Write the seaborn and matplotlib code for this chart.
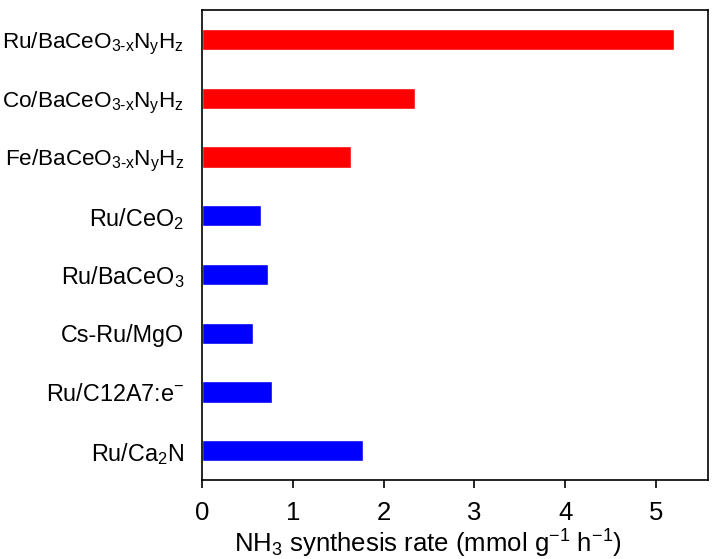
import pandas as pd
import seaborn as sns
from matplotlib import pyplot as plt

# catalysts, top to bottom
catalysts = [
    r"Ru/BaCeO$_{3\text{-}x}$N$_y$H$_z$",
    r"Co/BaCeO$_{3\text{-}x}$N$_y$H$_z$",
    r"Fe/BaCeO$_{3\text{-}x}$N$_y$H$_z$",
    r"Ru/CeO$_2$",
    r"Ru/BaCeO$_3$",
    "Cs-Ru/MgO",
    r"Ru/C12A7:e$^{-}$",
    r"Ru/Ca$_2$N",
]
rates = [5.20, 2.35, 1.64, 0.645, 0.726, 0.56, 0.77, 1.77]
groups = ["this work"] * 3 + ["reference"] * 5
x_ticks = [0, 1, 2, 3, 4, 5]

df = pd.DataFrame({"catalyst": catalysts, "rate": rates, "group": groups})

sns.set_style("white")
plt.rcParams['font.family'] = ['Liberation Sans', 'DejaVu Sans']
plt.rcParams['mathtext.fontset'] = 'custom'
plt.rcParams['mathtext.rm'] = 'Liberation Sans'
plt.rcParams['mathtext.it'] = 'Liberation Sans'
plt.rcParams['mathtext.bf'] = 'Liberation Sans:bold'
plt.rcParams['text.color'] = 'black'
plt.rcParams['axes.labelcolor'] = 'black'
plt.rcParams['xtick.color'] = 'black'
plt.rcParams['ytick.color'] = 'black'

fig = plt.figure(figsize=(7.2, 5.59), dpi=100)
ax = fig.add_axes([0.281, 0.141, 0.703, 0.841])

sns.barplot(data=df, x="rate", y="catalyst", hue="group",
            palette={"this work": "#ff0000", "reference": "#0000ff"},
            orient="h", width=0.36, dodge=False, legend=False,
            saturation=1, ax=ax)

ax.set_xlim(0, 5.58)
ax.set_ylim(7.5, -0.5)
ax.set_xticks(x_ticks)
ax.set_xlabel(r"NH$_3$ synthesis rate (mmol g$^{-1}$ h$^{-1}$)", fontsize=18.5, labelpad=2)
ax.xaxis.label.set_x(0.446)
ax.set_ylabel("")
ax.tick_params(axis='x', length=6, width=1.2, direction='out', labelsize=18.5, pad=9, bottom=True)
ax.tick_params(axis='y', length=0, labelsize=16.8, pad=13)

# the long formula labels are set a bit smaller so they fit
for lab in ax.get_yticklabels()[:3]:
    lab.set_fontsize(16.2)

for s in ax.spines.values():
    s.set_visible(True)
    s.set_color('black')
    s.set_linewidth(1.2)

plt.savefig("out.png", dpi=100)
